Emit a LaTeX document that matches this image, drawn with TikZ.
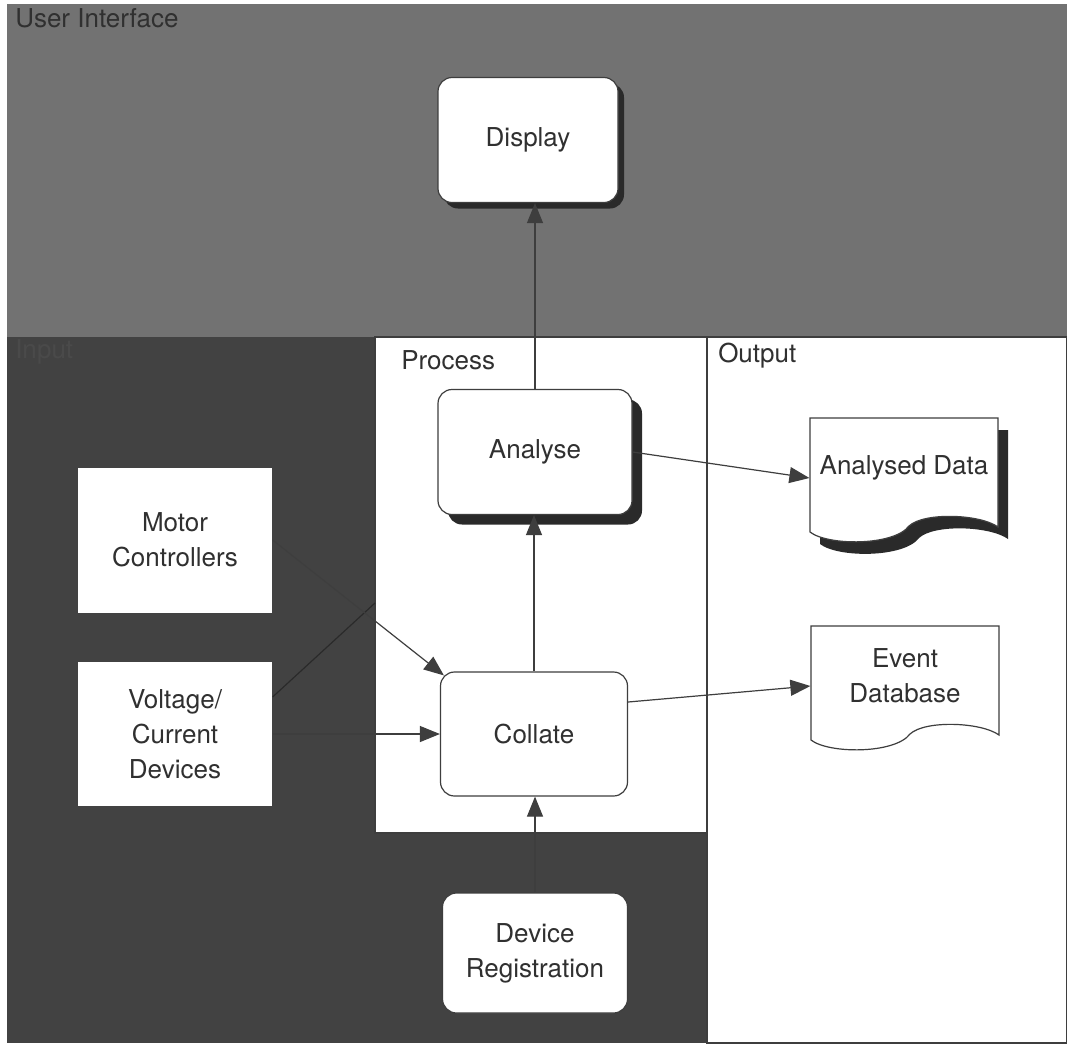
\documentclass[tikz,border=0pt]{standalone}
\usepackage{fontspec}
\setmainfont{TeX Gyre Heros}
\usetikzlibrary{arrows.meta,shadows}

\definecolor{uigray}{RGB}{114,114,114}
\definecolor{ingray}{RGB}{66,66,66}
\definecolor{inlblgray}{RGB}{74,74,74}
\definecolor{shadowgray}{RGB}{42,42,42}
\definecolor{linegray}{RGB}{62,62,62}
\definecolor{txtgray}{RGB}{48,48,48}

\tikzset{
  pics/doc_node/.style args={#1,#2,#3}{
     code={
        \path[fill=#3] (-84,-46) -- (104,-46) -- (104,63) .. controls (86,50) and (30,48) .. (15,62) .. controls (0,82) and (-66,82) .. (-84,68) -- cycle;
        \draw[linegray, fill=white] (-94,-58) -- (94,-58) -- (94,51) .. controls (76,38) and (20,36) .. (5,50) .. controls (-10,70) and (-76,70) .. (-94,56) -- cycle;
        \node[align=center, text=txtgray, minimum width=94pt, inner sep=0pt] (#1) at (0,-8) {#2};
     }
  },
  rbox/.style={draw=linegray, fill=white, text=txtgray, rounded corners=7pt, align=center, inner sep=0pt},
  sqbox/.style={fill=white, text=txtgray, align=center, inner sep=0pt},
  flow/.style={-{Triangle[length=10pt,width=8pt]}, draw=linegray}
}

\begin{document}
\begin{tikzpicture}[x=0.5pt, y=-0.5pt, line width=0.6pt, font=\fontsize{13}{17.5}\selectfont]
  \useasboundingbox (0,0) rectangle (1067,1046);
  \fill[uigray] (7,4) rectangle (1067,337);
  \fill[ingray] (7,337) rectangle (375,1043);
  \fill[ingray] (375,833) rectangle (707,1043);
  \draw[linegray, fill=white] (375,337) rectangle (707,833);
  \draw[linegray, fill=white] (707,337) rectangle (1067,1043);

  \node[anchor=west, text=txtgray] (uilbl) at (8,18) {User Interface};
  \node[anchor=west, text=inlblgray] (inlbl) at (8,352) {Input};
  \node[anchor=west, text=txtgray] (prlbl) at (394,360) {Process};
  \node[anchor=west, text=txtgray] (outlbl) at (711,356) {Output};

  \node[rbox, minimum width=90pt, minimum height=62.5pt,
        drop shadow={shadow xshift=3pt, shadow yshift=-3pt, fill=shadowgray, opacity=1}] (disp) at (528,140) {Display};
  \node[rbox, minimum width=97pt, minimum height=62.5pt,
        drop shadow={shadow xshift=5pt, shadow yshift=-5pt, fill=shadowgray, opacity=1}] (anl) at (535,452) {Analyse};
  \node[rbox, minimum width=93.5pt, minimum height=62pt] (col) at (534,734) {Collate};
  \node[rbox, minimum width=92.5pt, minimum height=60pt] (devreg) at (535,953) {Device\\Registration};
  \node[sqbox, minimum width=97pt, minimum height=72.5pt] (motor) at (175,540) {Motor\\Controllers};
  \node[sqbox, minimum width=97pt, minimum height=72pt] (volt) at (175,734) {Voltage/\\Current\\Devices};

  \path (904,476) pic{doc_node={adata,Analysed Data,shadowgray}};
  \path (905,684) pic{doc_node={evdb,{Event\\Database},none}};

  \coordinate (cut) at (375,603);
  \draw[shadowgray] ([yshift=18.5pt]volt.east) -- (cut);

  \draw[flow] (anl.north) -- (anl.north |- disp.south);
  \draw[flow] (col.north) -- (col.north |- anl.south);
  \draw[flow] (devreg.north) -- (devreg.north |- col.south);
  \draw[flow] (motor.east) -- ([xshift=2pt,yshift=-2pt]col.north west);
  \draw[flow] (volt.east) -- (volt.east -| col.west);
  \draw[flow] (anl.east) -- ([yshift=-5pt]adata.west);
  \draw[flow] ([yshift=16pt]col.east) -- ([yshift=-5pt]evdb.west);
\end{tikzpicture}
\end{document}
